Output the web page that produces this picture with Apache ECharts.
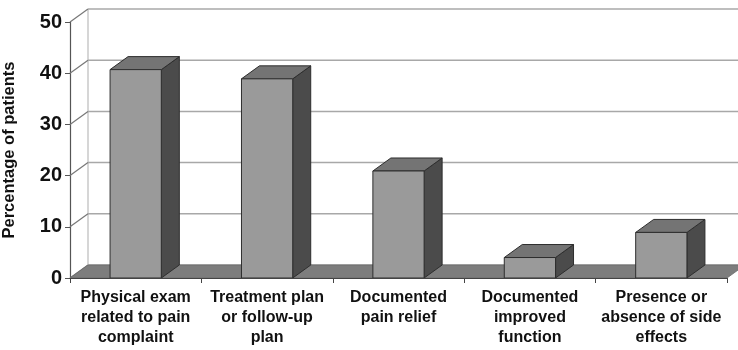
<!DOCTYPE html>
<html>
<head>
<meta charset="utf-8">
<script src="https://cdn.jsdelivr.net/npm/echarts@6/dist/echarts.min.js"></script>
<style>html,body{margin:0;padding:0;background:#fff;}#c{width:738px;height:350px;}</style>
</head>
<body>
<div id="c"></div>
<script>
const categories = [
  'Physical exam\nrelated to pain\ncomplaint',
  'Treatment plan\nor follow-up\nplan',
  'Documented\npain relief',
  'Documented\nimproved\nfunction',
  'Presence or\nabsence of side\neffects'
];
const values = [40.7, 38.9, 20.9, 4.0, 8.9];
const yTicks = [0, 10, 20, 30, 40, 50];
const yAxisTitle = 'Percentage of patients';

const DX = 18, DY = -13;
const BAR_RATIO = 0.39;
const FONT = '"Liberation Sans", Arial, sans-serif';

const chart = echarts.init(document.getElementById('c'), null, {renderer: 'canvas'});

function wallItem(params, api) {
  const cs = params.coordSys;
  const y = api.coord([0, api.value(1)])[1];
  const children = [
    {type: 'line', shape: {x1: cs.x, y1: y, x2: cs.x + DX, y2: y + DY},
     style: {stroke: '#777', lineWidth: 1.2}},
    {type: 'line', shape: {x1: cs.x + DX, y1: y + DY, x2: cs.x + cs.width + DX + 10, y2: y + DY},
     style: {stroke: '#a8a8a8', lineWidth: 1.5}}
  ];
  if (params.dataIndex === 0) {
    children.push({type: 'line', shape: {x1: cs.x + DX, y1: cs.y + DY, x2: cs.x + DX, y2: cs.y + cs.height + DY},
      style: {stroke: '#bbb', lineWidth: 1.2}});
    const yb = y;
    children.push({type: 'polygon', z2: 5, shape: {points: [
      [cs.x, yb], [cs.x + cs.width, yb], [cs.x + cs.width + DX, yb + DY], [cs.x + DX, yb + DY]
    ]}, style: {fill: '#7d7d7d', stroke: '#6a6a6a', lineWidth: 0.8}});
  }
  return {type: 'group', children};
}

function barItem(params, api) {
  const xi = api.value(0), v = api.value(1);
  const base = api.coord([xi, 0]);
  const top = api.coord([xi, v]);
  const bw = api.size([1, 0])[0] * BAR_RATIO;
  const x0 = base[0] - bw / 2, x1 = base[0] + bw / 2, yb = base[1], yt = top[1];
  const stroke = '#2e2e2e';
  return {type: 'group', children: [
    {type: 'polygon', shape: {points: [[x1, yb], [x1, yt], [x1 + DX, yt + DY], [x1 + DX, yb + DY]]},
     style: {fill: '#4b4b4b', stroke, lineWidth: 1}},
    {type: 'polygon', shape: {points: [[x0, yt], [x1, yt], [x1 + DX, yt + DY], [x0 + DX, yt + DY]]},
     style: {fill: '#747474', stroke, lineWidth: 1}},
    {type: 'rect', shape: {x: x0, y: yt, width: bw, height: yb - yt},
     style: {fill: '#9a9a9a', stroke, lineWidth: 1}}
  ]};
}

chart.setOption({
  animation: false,
  backgroundColor: '#fff',
  grid: {left: 70, right: 11, top: 22, bottom: 72, containLabel: false, outerBoundsMode: 'none'},
  xAxis: {
    type: 'category',
    data: categories,
    axisLine: {show: true, lineStyle: {color: '#444', width: 1.2}},
    axisTick: {show: true, length: 5, lineStyle: {color: '#444'}},
    axisLabel: {interval: 0, margin: 10, fontFamily: FONT, fontWeight: 'bold', fontSize: 16,
      lineHeight: 20, color: '#111'},
    z: 10
  },
  yAxis: {
    type: 'value', min: 0, max: 50, interval: 10,
    name: yAxisTitle, nameLocation: 'middle', nameGap: 52,
    nameTextStyle: {fontFamily: FONT, fontWeight: 'bold', fontSize: 16.5, color: '#111'},
    axisLine: {show: true, lineStyle: {color: '#555', width: 1.2}},
    axisTick: {show: true, length: 5, lineStyle: {color: '#555'}},
    axisLabel: {margin: 8, fontFamily: FONT, fontWeight: 'bold', fontSize: 20, color: '#111'},
    splitLine: {show: false}
  },
  series: [
    {type: 'custom', name: 'walls', renderItem: wallItem, z: 1,
     data: yTicks.map(t => [0, t]), silent: true},
    {type: 'custom', name: 'bars', renderItem: barItem, z: 3,
     data: values.map((v, i) => [i, v])}
  ]
});
</script>
</body>
</html>
